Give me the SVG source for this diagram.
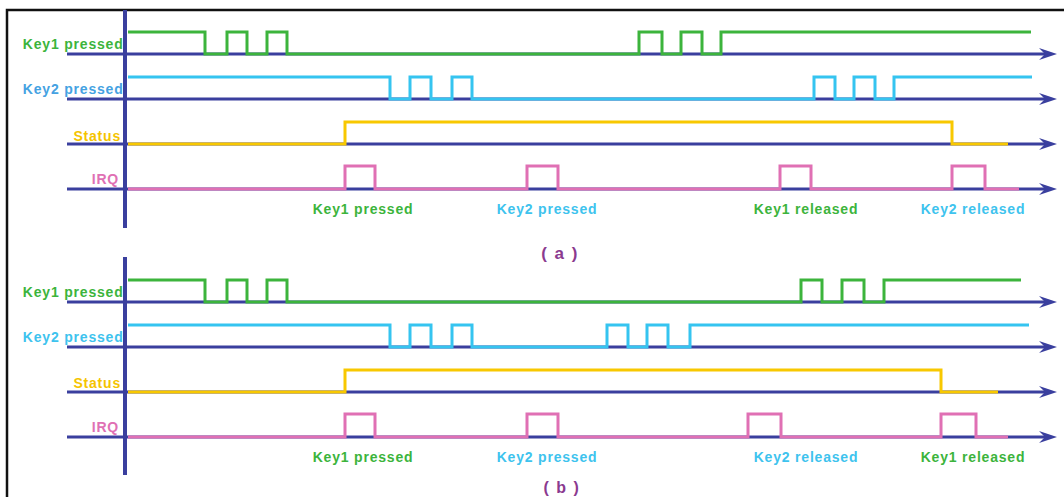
<svg xmlns="http://www.w3.org/2000/svg" width="1064" height="497" viewBox="0 0 1064 497">
<style>
  text { font-family: "Liberation Sans", Arial, sans-serif; font-weight: bold; font-size: 14px; letter-spacing: 0.8px; }
  .lbl { text-anchor: end; }
  .ev { text-anchor: middle; }
  .cap { text-anchor: middle; font-size: 17px; letter-spacing: 1.5px; fill: #8b3a8f; }
  .capb { font-size: 16px; }
  .axis { stroke: #3a3f9e; stroke-width: 3; fill: none; }
  .vaxis { stroke: #3a3f9e; stroke-width: 4; fill: none; }
  .wave { stroke-width: 3; fill: none; stroke-linejoin: miter; stroke-linecap: butt; }
  .g { stroke: #3cb43c; } .c { stroke: #35c4f0; } .y { stroke: #f8c800; } .p { stroke: #e070b4; }
  .tg { fill: #3cb43c; } .tc { fill: #3ec3ee; } .tb { fill: #45a2e2; } .ty { fill: #f5c400; } .tp { fill: #e070b4; }
</style>
<defs>
  <marker id="arr" viewBox="0 0 18 12" markerWidth="18" markerHeight="12" refX="6" refY="6" orient="auto" markerUnits="userSpaceOnUse">
    <path d="M0,0 L18,6 L0,12 L6,6 Z" fill="#3a3f9e"/>
  </marker>
</defs>
<rect width="1064" height="497" fill="#ffffff"/>
<path d="M7,497 V10 H1064" fill="none" stroke="#111111" stroke-width="2.5"/>

<g id="connectors">
  <g id="axes-a">
    <line class="vaxis" x1="125" y1="10" x2="125" y2="228"/>
    <line class="axis" x1="67" y1="54" x2="1045" y2="54" marker-end="url(#arr)"/>
    <line class="axis" x1="67" y1="99" x2="1045" y2="99" marker-end="url(#arr)"/>
    <line class="axis" x1="67" y1="144" x2="1045" y2="144" marker-end="url(#arr)"/>
    <line class="axis" x1="67" y1="189" x2="1045" y2="189" marker-end="url(#arr)"/>
  </g>
  <g id="axes-b">
    <line class="vaxis" x1="125" y1="257" x2="125" y2="475"/>
    <line class="axis" x1="67" y1="302" x2="1045" y2="302" marker-end="url(#arr)"/>
    <line class="axis" x1="67" y1="347" x2="1045" y2="347" marker-end="url(#arr)"/>
    <line class="axis" x1="67" y1="392" x2="1045" y2="392" marker-end="url(#arr)"/>
    <line class="axis" x1="67" y1="437" x2="1045" y2="437" marker-end="url(#arr)"/>
  </g>
</g>

<g id="panel-a">
  <g id="a-key1">
    <path class="wave g" d="M128,32 H205 V54 H227 V32 H247 V54 H267 V32 H287 V54 H639 V32 H662 V54 H681 V32 H702 V54 H721 V32 H1031"/>
    <text class="lbl tg" x="123.5" y="49">Key1 pressed</text>
  </g>
  <g id="a-key2">
    <path class="wave c" d="M128,77 H390 V99 H410 V77 H431 V99 H452 V77 H472 V99 H814 V77 H835 V99 H854 V77 H875 V99 H894 V77 H1032"/>
    <text class="lbl tb" x="123.5" y="94">Key2 pressed</text>
  </g>
  <g id="a-status">
    <path class="wave y" d="M128,144 H345 V122 H952 V144 H1008"/>
    <text class="lbl ty" x="121" y="140.5">Status</text>
  </g>
  <g id="a-irq">
    <path class="wave p" d="M128,189 H345 V166 H375 V189 H527 V166 H558 V189 H780 V166 H811 V189 H952 V166 H985 V189 H1019"/>
    <text class="lbl tp" x="119" y="184">IRQ</text>
  </g>
  <g id="a-events">
    <text class="ev tg" x="363" y="214">Key1 pressed</text>
    <text class="ev tc" x="547" y="214">Key2 pressed</text>
    <text class="ev tg" x="806" y="214">Key1 released</text>
    <text class="ev tc" x="973" y="214">Key2 released</text>
  </g>
  <text class="cap" x="560" y="258.5">( a )</text>
</g>

<g id="panel-b">
  <g id="b-key1">
    <path class="wave g" d="M128,280 H205 V302 H227 V280 H247 V302 H267 V280 H287 V302 H801 V280 H822 V302 H842 V280 H864 V302 H884 V280 H1021"/>
    <text class="lbl tg" x="123.5" y="296.5">Key1 pressed</text>
  </g>
  <g id="b-key2">
    <path class="wave c" d="M128,325 H390 V347 H410 V325 H431 V347 H452 V325 H472 V347 H607 V325 H628 V347 H647 V325 H668 V347 H690 V325 H1029"/>
    <text class="lbl tc" x="123.5" y="341.5">Key2 pressed</text>
  </g>
  <g id="b-status">
    <path class="wave y" d="M128,392 H345 V370 H941 V392 H998"/>
    <text class="lbl ty" x="121" y="388">Status</text>
  </g>
  <g id="b-irq">
    <path class="wave p" d="M128,437 H345 V414 H375 V437 H527 V414 H558 V437 H748 V414 H781 V437 H941 V414 H976 V437 H1008"/>
    <text class="lbl tp" x="119" y="431.5">IRQ</text>
  </g>
  <g id="b-events">
    <text class="ev tg" x="363" y="461.5">Key1 pressed</text>
    <text class="ev tc" x="547" y="461.5">Key2 pressed</text>
    <text class="ev tc" x="806" y="461.5">Key2 released</text>
    <text class="ev tg" x="973" y="461.5">Key1 released</text>
  </g>
  <text class="cap capb" x="562" y="492.5">( b )</text>
</g>
</svg>
